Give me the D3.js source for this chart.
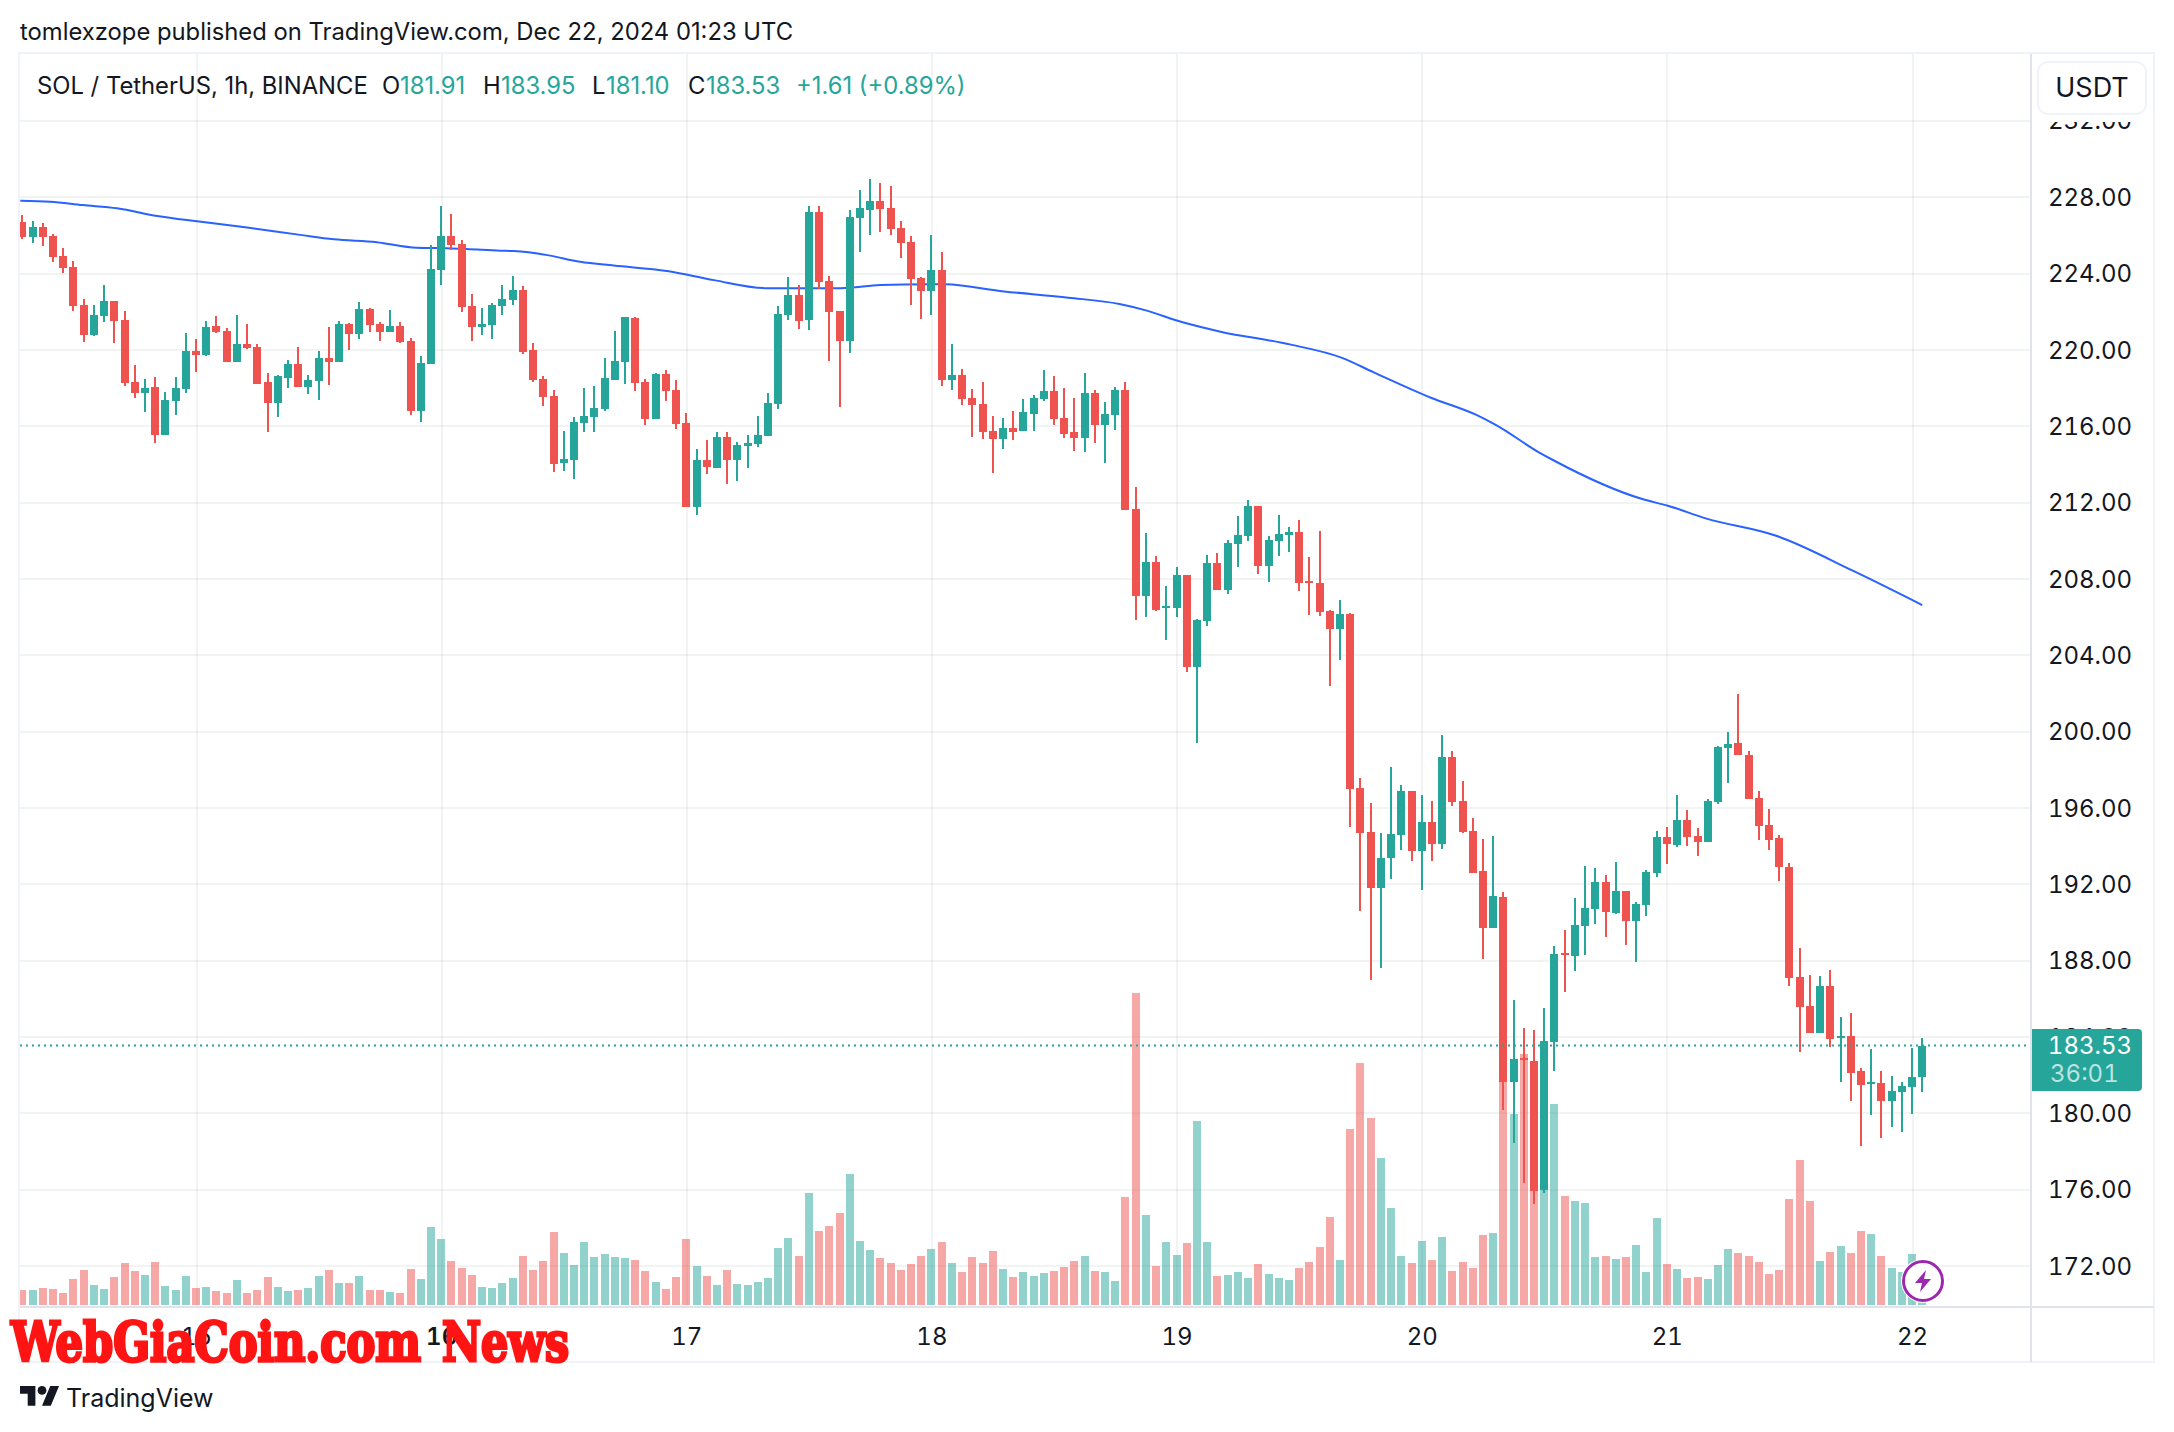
<!DOCTYPE html>
<html><head><meta charset="utf-8">
<script src="https://cdn.jsdelivr.net/npm/d3@7/dist/d3.min.js"></script>
<style>html,body{margin:0;padding:0;background:#fff}svg{display:block}text{font-family:Inter,"Noto Sans",sans-serif;fill:#131722;font-variant-numeric:tabular-nums}</style>
</head><body><svg id="c" width="2174" height="1432"></svg>
<script>
const opens=[226.67,225.89,226.41,225.94,224.89,224.32,222.33,220.75,221.75,222.53,221.54,218.29,217.72,218.03,215.52,217.30,217.93,219.92,219.71,221.22,220.96,219.34,220.28,220.12,218.29,217.19,218.50,219.23,218.03,218.34,219.55,219.34,221.33,220.81,222.12,221.33,220.91,221.22,220.44,216.77,219.23,224.16,225.94,225.52,222.27,221.17,221.28,222.27,222.59,223.11,219.97,218.45,217.56,214.05,214.21,216.14,216.46,216.88,218.40,219.34,221.64,218.29,216.35,218.71,217.87,216.14,211.74,214.21,213.79,215.41,214.21,214.94,215.04,215.46,217.14,221.80,222.85,221.54,227.20,223.58,222.01,220.44,226.88,227.30,227.77,227.41,226.36,225.62,223.74,223.06,224.16,218.40,218.66,217.45,217.14,215.72,215.30,215.88,215.72,216.61,217.40,217.82,216.40,215.67,215.36,217.71,216.04,216.56,217.87,211.64,207.08,208.86,206.45,206.45,208.18,203.36,205.77,208.81,207.40,209.80,210.22,211.79,208.65,209.96,210.28,210.43,207.87,207.76,206.30,205.35,206.14,197.03,194.72,191.79,193.36,194.56,196.87,193.73,195.24,194.09,198.65,196.34,194.77,192.68,189.69,191.32,181.63,182.88,182.73,175.97,183.72,188.38,188.23,189.80,190.69,192.10,190.48,191.63,190.06,190.90,192.57,194.46,194.04,195.35,194.51,194.20,196.29,199.12,199.38,198.75,196.50,195.09,194.41,192.89,187.13,185.61,184.19,186.65,183.93,184.04,182.20,181.52,181.57,180.63,181.10,181.37,181.91];
const closes=[225.89,226.41,225.89,224.84,224.26,222.27,220.75,221.80,222.53,221.49,218.24,217.72,217.98,215.52,217.35,217.98,219.92,219.71,221.17,220.91,219.34,220.28,220.07,218.19,217.19,218.61,219.23,218.03,218.40,219.55,219.34,221.33,220.81,222.12,221.28,220.91,221.22,220.39,216.77,219.29,224.21,225.94,225.47,222.22,221.17,221.33,222.33,222.64,223.11,219.86,218.40,217.51,214.00,214.26,216.20,216.51,216.93,218.50,219.39,221.70,218.24,216.35,218.71,217.82,216.09,211.74,214.21,213.84,215.41,214.21,214.99,215.10,215.52,217.19,221.85,222.85,221.49,227.20,223.53,221.96,220.44,226.93,227.41,227.77,227.35,226.31,225.57,223.69,223.06,224.16,218.40,218.66,217.40,217.09,215.67,215.30,215.88,215.67,216.72,217.45,217.82,216.35,215.57,215.36,217.71,216.04,216.61,217.87,211.59,207.08,208.86,206.35,206.56,208.18,203.36,205.82,208.81,207.40,209.86,210.28,211.79,208.65,210.02,210.33,210.43,207.76,207.76,206.24,205.35,206.14,196.97,194.67,191.79,193.36,194.62,196.87,193.73,195.24,194.09,198.65,196.29,194.72,192.57,189.69,191.37,181.63,182.83,182.78,175.92,183.77,188.33,188.28,189.85,190.74,192.10,190.53,191.63,190.06,190.95,192.63,194.46,194.09,195.35,194.46,194.20,196.34,199.17,199.33,198.75,196.45,195.03,194.30,192.89,187.07,185.55,184.19,186.65,183.88,184.04,182.10,181.47,181.63,180.63,181.15,181.42,181.89,183.53];
const highs=[227.04,226.72,226.62,226.04,225.31,224.63,222.64,222.33,223.37,222.53,222.01,219.18,218.45,218.55,217.77,218.55,220.86,220.54,221.49,221.75,221.12,221.80,221.33,220.28,218.76,218.66,219.44,220.12,218.66,219.92,221.17,221.49,221.38,222.48,222.17,221.43,222.06,221.43,220.60,219.65,225.47,227.51,227.09,225.73,222.90,222.17,222.43,223.37,223.84,223.32,220.33,218.61,217.87,215.72,216.46,217.98,218.08,219.55,220.96,221.70,221.70,218.45,218.76,218.92,218.40,216.67,214.78,215.25,215.67,215.67,215.15,215.52,216.51,217.72,222.27,223.79,223.37,227.51,227.51,223.84,222.01,227.30,228.35,228.92,228.72,228.56,226.72,225.94,223.79,225.99,225.10,220.28,218.97,217.92,218.29,216.51,216.40,216.77,217.40,217.61,218.92,218.60,217.98,217.45,218.76,217.87,217.24,218.03,218.29,212.79,210.38,209.18,207.60,208.60,208.18,205.88,209.23,209.33,210.02,211.27,212.11,211.79,210.22,211.32,210.69,211.06,209.12,210.48,206.35,206.87,206.19,197.55,196.24,194.67,198.13,197.18,196.87,196.66,196.35,199.80,198.96,197.39,195.45,194.35,194.51,191.58,185.92,184.45,184.35,185.50,188.75,189.59,191.26,192.94,192.84,192.47,193.15,191.63,191.05,192.73,194.77,194.98,196.66,195.87,194.93,196.45,199.23,199.96,201.95,198.96,196.87,195.93,194.56,193.10,188.64,187.23,187.18,187.49,185.03,185.24,182.36,183.35,182.20,181.94,181.63,183.41,183.95];
const lows=[225.78,225.57,225.42,224.58,224.00,222.01,220.39,220.70,221.43,220.33,218.08,217.45,216.72,215.10,215.52,216.56,217.72,218.82,219.65,220.86,219.34,219.34,220.02,218.19,215.67,216.46,217.98,218.03,217.66,217.35,218.13,219.34,219.97,220.54,220.91,220.44,220.91,220.33,216.56,216.20,219.23,223.37,225.21,221.96,220.44,220.75,220.54,221.80,222.33,219.76,218.29,217.03,213.58,213.63,213.21,215.67,215.67,216.77,218.40,218.19,217.82,216.04,216.35,217.30,215.83,211.74,211.33,213.47,213.79,212.95,213.11,213.79,214.89,215.46,216.88,221.54,221.07,221.02,223.16,219.39,216.98,219.81,225.10,225.99,226.15,225.99,224.79,222.33,221.59,221.80,218.08,217.87,217.09,215.41,215.30,213.52,214.78,215.25,215.72,215.72,217.29,216.04,215.36,214.68,214.62,215.09,214.05,215.78,211.59,205.82,205.98,206.30,204.78,205.98,203.10,199.38,205.51,207.40,207.19,208.60,209.96,208.23,207.81,209.18,209.39,207.34,206.09,206.03,202.37,203.73,194.98,190.58,186.97,187.60,192.26,193.78,193.20,191.68,193.20,193.83,196.08,194.67,192.57,188.07,189.69,180.16,178.43,176.34,175.24,175.81,182.20,186.34,187.44,188.28,189.90,189.22,190.43,188.80,187.91,190.32,192.36,193.04,193.93,193.99,193.46,194.20,196.19,197.29,198.75,196.45,194.30,193.78,192.15,186.65,183.20,184.19,184.19,183.46,181.63,180.63,178.27,179.90,178.69,179.27,179.01,179.95,181.10];
const volumes=[45,45,51,48,36,78,105,60,48,84,126,102,90,129,57,45,87,51,54,42,36,75,36,45,84,54,42,45,51,87,105,66,66,87,45,45,39,36,108,78,234,198,132,111,90,54,51,66,81,147,105,132,219,156,120,189,144,153,144,141,135,102,69,48,84,198,117,87,60,105,63,60,69,81,171,201,147,336,222,237,276,393,192,165,141,126,105,123,147,168,189,126,99,144,126,162,108,84,99,87,96,102,114,132,147,102,99,72,324,936,270,117,189,150,186,552,189,87,90,99,81,123,93,81,75,111,129,174,264,135,528,726,561,441,291,147,126,192,135,204,102,129,111,210,216,714,573,753,420,501,603,327,312,306,144,147,138,144,180,99,261,123,108,81,84,78,120,168,156,147,129,93,105,318,435,312,132,159,177,156,222,213,147,111,99,153,60];
const maHours=[-0.2,2.74,5.9,9.27,13.2,17.1,22,27.2,30.5,34.7,38.6,40.9,43.5,46.8,48.1,51.4,54.6,57.9,63.1,67.7,72.9,80.1,84,88.6,90.4,96.1,102.4,107.4,109.9,113.6,117.3,124.2,129.2,132.3,137.9,142.3,144.2,148.6,149.8,158.6,161.1,164.8,171.7,179.2,186];
const maPrices=[227.79,227.74,227.56,227.39,226.99,226.71,226.39,226.0,225.77,225.62,225.33,225.31,225.26,225.17,225.15,224.94,224.59,224.39,224.11,223.63,223.21,223.21,223.37,223.42,223.41,223.04,222.71,222.38,222.06,221.42,220.93,220.25,219.56,218.80,217.47,216.58,216.06,214.57,214.22,212.16,211.81,211.15,210.24,208.41,206.61];
const priceTicks=[172,176,180,184,188,192,196,200,204,208,212,216,220,224,228,232];
const dayTicks=[[17,"15"],[41,"16"],[65,"17"],[89,"18"],[113,"19"],[137,"20"],[161,"21"],[185,"22"]];
const lastPrice=183.53;

const UP="#26a69a",DOWN="#ef5350",GRID="rgba(42,46,57,0.06)",AXIS="#e0e3eb",FRAME="#f0f3fa";
const L=20,R=2031,T=54,B=1306,OUT=2154,BOT=1362,VOLB=1305;
const svg=d3.select("#c");
const x=d3.scaleLinear().domain([17,185]).range([196,1912]);
const y=d3.scaleLinear().domain([172,228]).range([1265.7,196.7]);
const v=d3.scaleLinear().domain([0,936]).range([VOLB,VOLB-312]);
const defs=svg.append("defs");
defs.append("clipPath").attr("id","pane").append("rect").attr("x",L).attr("y",T).attr("width",R-L).attr("height",B-T);
const pane=svg.append("g").attr("clip-path","url(#pane)");

const gy=pane.append("g").attr("transform",`translate(${L},0)`).call(d3.axisRight(y).tickValues(priceTicks).tickSize(R-L).tickFormat(""));
const gx=pane.append("g").attr("transform",`translate(0,${T})`).call(d3.axisBottom(x).tickValues(dayTicks.map(d=>d[0])).tickSize(B-T).tickFormat(""));
[gy,gx].forEach(g=>{g.select(".domain").remove();g.selectAll("line").attr("stroke",GRID).attr("stroke-width",2).attr("shape-rendering","crispEdges");});

const idx=d3.range(opens.length);
const col=i=>closes[i]>=opens[i]?UP:DOWN;
pane.append("g").attr("opacity",.5).selectAll("rect").data(idx).join("rect")
  .attr("x",i=>Math.round(x(i))-4).attr("width",8)
  .attr("y",i=>v(volumes[i])).attr("height",i=>VOLB-v(volumes[i]))
  .attr("fill",col).attr("shape-rendering","crispEdges");

const maLine=d3.line().x((d,i)=>x(maHours[i])).y(d=>y(d)).curve(d3.curveMonotoneX);
pane.append("path").attr("d",maLine(maPrices)).attr("fill","none").attr("stroke","#2962ff").attr("stroke-width",2);

const cg=pane.append("g").attr("shape-rendering","crispEdges");
cg.selectAll("rect.w").data(idx).join("rect").attr("class","w")
  .attr("x",i=>Math.round(x(i))-1).attr("width",2)
  .attr("y",i=>y(highs[i])).attr("height",i=>y(lows[i])-y(highs[i])).attr("fill",col);
cg.selectAll("rect.b").data(idx).join("rect").attr("class","b")
  .attr("x",i=>Math.round(x(i))-4).attr("width",8)
  .attr("y",i=>y(Math.max(opens[i],closes[i])))
  .attr("height",i=>Math.max(2,Math.abs(y(opens[i])-y(closes[i])))).attr("fill",col);

pane.append("line").attr("x1",L).attr("x2",R).attr("y1",y(lastPrice)).attr("y2",y(lastPrice))
  .attr("stroke",UP).attr("stroke-width",2).attr("stroke-dasharray","2 4");

svg.append("rect").attr("x",L-1).attr("y",T-1).attr("width",OUT-L+1).attr("height",BOT-T+1).attr("fill","none").attr("stroke",FRAME).attr("stroke-width",2);
svg.append("line").attr("x1",R).attr("x2",R).attr("y1",T).attr("y2",BOT).attr("stroke",AXIS).attr("stroke-width",2);
svg.append("line").attr("x1",L).attr("x2",OUT).attr("y1",B+1).attr("y2",B+1).attr("stroke",AXIS).attr("stroke-width",2);

const ay=svg.append("g").attr("transform",`translate(2090,0)`).call(d3.axisRight(y).tickValues(priceTicks).tickSize(0).tickPadding(0).tickFormat(d3.format(".2f")));
ay.select(".domain").remove();
ay.selectAll("text").attr("text-anchor","middle").attr("font-size",24).style("font-family","Inter").attr("dy","0.36em");
const ax=svg.append("g").attr("transform",`translate(0,1336)`).call(d3.axisBottom(x).tickValues(dayTicks.map(d=>d[0])).tickSize(0).tickPadding(0).tickFormat(d=>dayTicks.find(t=>t[0]===d)[1]));
ax.select(".domain").remove();
ax.selectAll("text").attr("font-size",24).attr("dy","0.36em").attr("y",0).attr("font-weight",d=>d===41?600:400);

svg.append("rect").attr("x",2033).attr("y",55).attr("width",120).attr("height",67).attr("fill","#fff");
svg.append("rect").attr("x",2038).attr("y",62).attr("width",108).attr("height",52).attr("rx",10).attr("fill","#fff").attr("stroke",FRAME).attr("stroke-width",2);
svg.append("text").attr("x",2092).attr("y",97).attr("text-anchor","middle").attr("font-size",27).text("USDT");

svg.append("path").attr("d","M2032 1029H2138a4 4 0 0 1 4 4V1087a4 4 0 0 1 -4 4H2032Z").attr("fill",UP);
svg.append("text").attr("x",2090).attr("y",y(lastPrice)+8).attr("text-anchor","middle").attr("font-size",24).style("fill","#fff").text(d3.format(".2f")(lastPrice));
svg.append("text").attr("x",2050).attr("y",1082).attr("font-size",24).style("fill","#fff").style("fill-opacity",.7).text("36:01");

svg.append("text").attr("x",20).attr("y",40).attr("font-size",23.8).style("font-variant-numeric","normal").text("tomlexzope published on TradingView.com, Dec 22, 2024 01:23 UTC");
const hdr=[[37,"SOL / TetherUS, 1h, BINANCE","#131722"],[382,"O","#131722"],[400,"181.91",UP],[483,"H","#131722"],[501,"183.95",UP],[592,"L","#131722"],[606,"181.10",UP],[688,"C","#131722"],[706,"183.53",UP],[796,"+1.61 (+0.89%)",UP]];
svg.append("g").selectAll("text").data(hdr).join("text").attr("x",d=>d[0]).attr("y",94).attr("font-size",23.8).style("fill",d=>d[2]).style("font-variant-numeric","normal").text(d=>d[1]);

const bx=1923,by=1281;
svg.append("circle").attr("cx",bx).attr("cy",by).attr("r",22).attr("fill","#fff");
svg.append("circle").attr("cx",bx).attr("cy",by).attr("r",19.5).attr("fill","#fff").attr("stroke","#9c27b0").attr("stroke-width",3);
svg.append("path").attr("transform",`translate(${bx},${by})`).attr("d","M3 -11L-8 2H-1L-3 11L8 -2H1Z").attr("fill","#9c27b0");

[[11,410,"WebGiaCoin.com"],[442,127,"News"]].forEach(d=>{
 svg.append("text").attr("x",d[0]).attr("y",1361).attr("font-size",55).attr("textLength",d[1]).attr("lengthAdjust","spacingAndGlyphs")
  .style("fill","#ff1414").attr("stroke","#ff1414").attr("stroke-width",3).style("font-family","'DejaVu Serif Condensed','DejaVu Serif',serif").style("font-weight",700).text(d[2]);
});

const lg=svg.append("g").attr("transform","translate(20,1381.6) scale(1.1)").attr("fill","#131722");
lg.append("path").attr("d","M14 22H7V11H0V4h14v18zM28 22h-8l7.5-18h8L28 22z");
lg.append("circle").attr("cx",20).attr("cy",8).attr("r",4);
svg.append("text").attr("x",66).attr("y",1407).attr("font-size",25).text("TradingView");
</script></body></html>
